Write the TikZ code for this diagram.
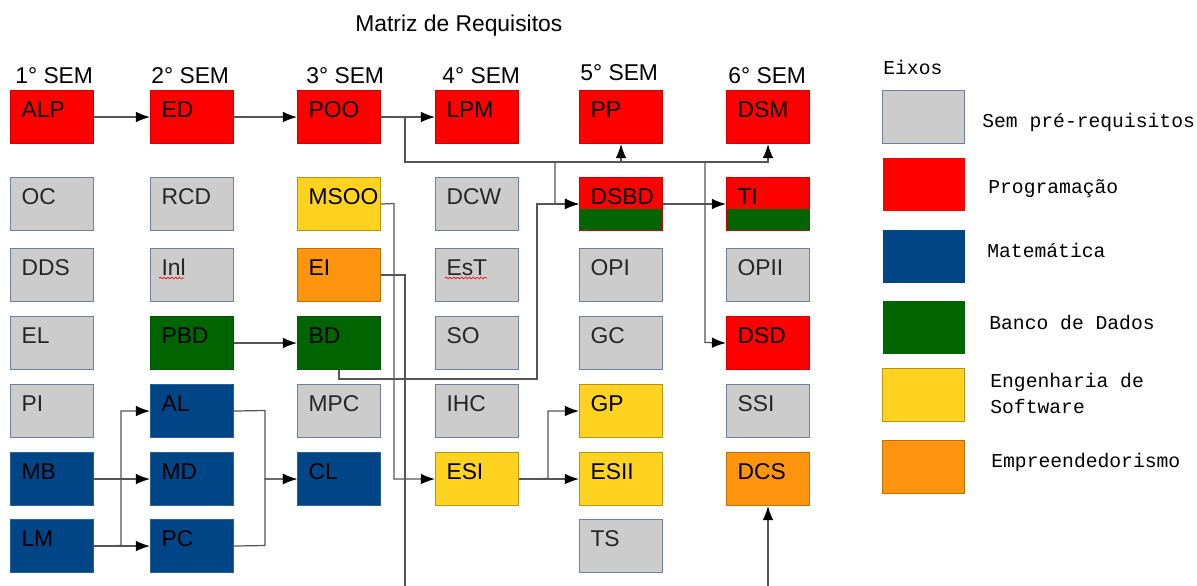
\documentclass[tikz,border=0pt]{standalone}
\usepackage{fontspec}
\setmainfont{Liberation Sans}
\newfontfamily\legendfont{Liberation Mono}
\usetikzlibrary{arrows.meta, decorations.pathmorphing}

\definecolor{semgray}{RGB}{204, 204, 204}
\definecolor{semline}{RGB}{110, 128, 155}
\definecolor{progred}{RGB}{255, 0, 0}
\definecolor{matblue}{RGB}{0, 69, 134}
\definecolor{bdgreen}{RGB}{0, 100, 0}
\definecolor{esyellow}{RGB}{255, 211, 32}
\definecolor{emporange}{RGB}{255, 149, 14}
\definecolor{linkgray}{RGB}{85, 85, 85}

\begin{document}
\begin{tikzpicture}[x = 0.02cm, y = -0.02cm,
	> = {Latex[length = 8pt, width = 6pt, color = black]},
	box/.style = {rectangle, draw, anchor = north west, line width = 0.6pt,
		minimum width = 1.66cm, minimum height = 1.06cm,
		inner xsep = 0.22cm, inner ysep = 0pt, text width = 1.22cm, align = left,
		text height = 0.54cm, text depth = 0.52cm, font = \fontsize{13}{15}\selectfont},
	semreq/.style = {box, fill = semgray, draw = semline, text = black!85},
	progbox/.style = {box, fill = progred, draw = progred!80!black},
	matbox/.style = {box, fill = matblue, draw = matblue!85!white},
	bdbox/.style = {box, fill = bdgreen, draw = bdgreen!85!black},
	esbox/.style = {box, fill = esyellow, draw = esyellow!70!black},
	empbox/.style = {box, fill = emporange, draw = emporange!75!black},
	splitbox/.style = {progbox, path picture = {\fill [bdgreen]
		(path picture bounding box.south west) rectangle
		([yshift = 0.44cm] path picture bounding box.south east);}},
	link/.style = {draw = linkgray, line width = 0.7pt},
	heading/.style = {anchor = base west, inner sep = 0pt, font = \fontsize{13}{15}\selectfont},
	legbox/.style = {rectangle, anchor = north west, line width = 0.6pt,
		minimum width = 1.64cm, minimum height = 1.06cm},
	legtext/.style = {anchor = base west, inner sep = 0pt, align = left,
		font = \legendfont\fontsize{11.2}{14.6}\selectfont},
	spell/.style = {draw = red, line width = 0.35pt, decorate,
		decoration = {snake, amplitude = 0.5pt, segment length = 2.2pt}}]

	% Frame of the picture
	
	\useasboundingbox (0, 0) rectangle (1197, 585);
	\clip (0, 0) rectangle (1197, 585);
	
	% Title and semester headings
	
	\node [heading] (title) at (355, 31) {Matriz de Requisitos};
	
	\node [heading] (sem1) at (15, 83) {1° SEM};
	\node [heading] (sem2) at (151, 83) {2° SEM};
	\node [heading] (sem3) at (306, 83) {3° SEM};
	\node [heading] (sem4) at (442, 83) {4° SEM};
	\node [heading] (sem5) at (580, 80) {5° SEM};
	\node [heading] (sem6) at (728, 83) {6° SEM};
	
	% 1st semester
	
	\node [progbox] (ALP) at (10, 90) {ALP};
	\node [semreq] (OC) at (10, 177) {OC};
	\node [semreq] (DDS) at (10, 248) {DDS};
	\node [semreq] (EL) at (10, 316) {EL};
	\node [semreq] (PI) at (10, 384) {PI};
	\node [matbox] (MB) at (10, 452) {MB};
	\node [matbox] (LM) at (10, 519) {LM};
	
	% 2nd semester
	
	\node [progbox] (ED) at (150, 90) {ED};
	\node [semreq] (RCD) at (150, 177) {RCD};
	\node [semreq] (Inl) at (150, 248) {Inl};
	\node [bdbox] (PBD) at (150, 316) {PBD};
	\node [matbox] (AL) at (150, 384) {AL};
	\node [matbox] (MD) at (150, 452) {MD};
	\node [matbox] (PC) at (150, 519) {PC};
	
	% 3rd semester
	
	\node [progbox] (POO) at (297, 90) {POO};
	\node [esbox] (MSOO) at (297, 177) {MSOO};
	\node [empbox] (EI) at (297, 248) {EI};
	\node [bdbox] (BD) at (297, 316) {BD};
	\node [semreq] (MPC) at (297, 384) {MPC};
	\node [matbox] (CL) at (297, 452) {CL};
	
	% 4th semester
	
	\node [progbox] (LPM) at (435, 90) {LPM};
	\node [semreq] (DCW) at (435, 177) {DCW};
	\node [semreq] (EsT) at (435, 248) {EsT};
	\node [semreq] (SO) at (435, 316) {SO};
	\node [semreq] (IHC) at (435, 384) {IHC};
	\node [esbox] (ESI) at (435, 452) {ESI};
	
	% 5th semester
	
	\node [progbox] (PP) at (579, 90) {PP};
	\node [splitbox] (DSBD) at (579, 177) {DSBD};
	\node [semreq] (OPI) at (579, 248) {OPI};
	\node [semreq] (GC) at (579, 316) {GC};
	\node [esbox] (GP) at (579, 384) {GP};
	\node [esbox] (ESII) at (579, 452) {ESII};
	\node [semreq] (TS) at (579, 519) {TS};
	
	% 6th semester
	
	\node [progbox] (DSM) at (726, 90) {DSM};
	\node [splitbox] (TI) at (726, 177) {TI};
	\node [semreq] (OPII) at (726, 248) {OPII};
	\node [progbox] (DSD) at (726, 316) {DSD};
	\node [semreq] (SSI) at (726, 384) {SSI};
	\node [empbox] (DCS) at (726, 452) {DCS};
	
	% Spell check marks
	
	\draw [spell] ([shift = {(9, 30)}] Inl.north west) -- ([shift = {(34, 30)}] Inl.north west);
	\draw [spell] ([shift = {(10, 30)}] EsT.north west) -- ([shift = {(52, 30)}] EsT.north west);
	
	% Corners of the connectors
	
	\coordinate (bus) at (405, 162);
	\coordinate (kDSBD) at (555, 203.5);
	\coordinate (kDSD) at (705, 342.5);
	\coordinate (kBD) at (537, 379);
	\coordinate (kMSOO) at (394, 203.5);
	\coordinate (kEI) at (405, 600);
	\coordinate (kESI) at (548, 478.5);
	\coordinate (kLM) at (121, 545.5);
	\coordinate (kAL) at (265, 410.5);
	\coordinate (kPC) at (265, 545.5);
	
	% Connectors
	
	\begin{scope}[link, ->]
	
		\draw (ALP) -- (ED);
		\draw (ED) -- (POO);
		\draw (POO) -- (LPM);
		
		\draw (POO.east) -| (bus) -| (PP.south);
		\draw (POO.east) -| (bus) -| (DSM.south);
		\draw (POO.east) -| (bus) -| (kDSBD) -- (DSBD.west);
		\draw (POO.east) -| (bus) -| (kDSD) -- (DSD.west);
		
		\draw (DSBD) -- (TI);
		\draw (PBD) -- (BD);
		\draw (BD.south) |- (kBD) |- (DSBD.west);
		
		\draw (MSOO.east) -- (kMSOO) |- (ESI.west);
		\draw (EI.east) -| (kEI) -| (DCS.south);
		
		\draw (ESI) -- (ESII);
		\draw (ESI.east) -- (kESI) |- (GP.west);
		
		\draw (MB) -- (MD);
		\draw (LM) -- (PC);
		\draw (LM.east) -- (kLM) |- (AL.west);
		\draw (AL.east) -- (kAL) |- (CL.west);
		\draw (PC.east) -- (kPC) |- (CL.west);
		
	\end{scope}
	
	% Legend
	
	\node [legtext] (eixos) at (883, 74) {Eixos};
	
	\node [legbox, fill = semgray, draw = semline] (lsem) at (882, 90) {};
	\node [legbox, fill = progred] (lprog) at (882, 157) {};
	\node [legbox, fill = matblue] (lmat) at (882, 229) {};
	\node [legbox, fill = bdgreen] (lbd) at (882, 300) {};
	\node [legbox, fill = esyellow, draw = esyellow!70!black] (les) at (882, 368) {};
	\node [legbox, fill = emporange, draw = emporange!75!black] (lemp) at (882, 440) {};
	
	\node [legtext] at (982, 127) {Sem pré-requisitos};
	\node [legtext] at (988, 193) {Programação};
	\node [legtext] at (987, 257) {Matemática};
	\node [legtext] at (989, 329) {Banco de Dados};
	\node [legtext] at (990, 413) {Engenharia de\\Software};
	\node [legtext] at (991, 467) {Empreendedorismo};
		
\end{tikzpicture}
\end{document}
